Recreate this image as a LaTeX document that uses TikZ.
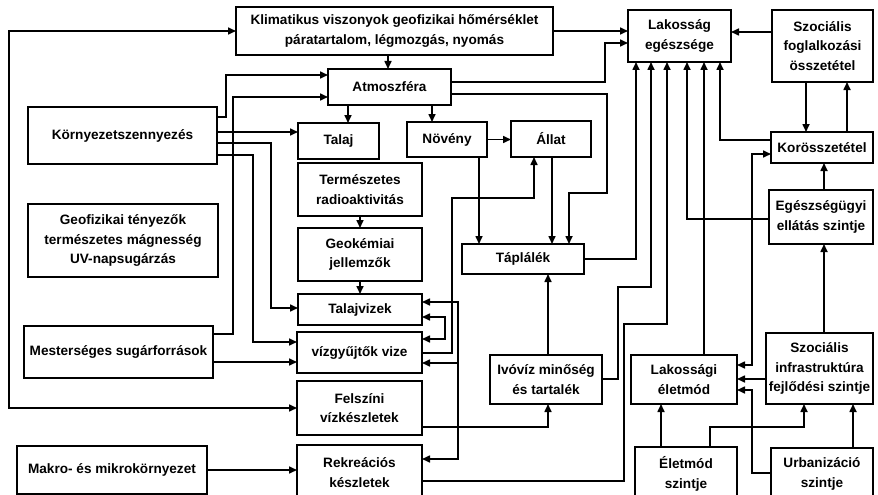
\documentclass[tikz,border=0pt]{standalone}
\usepackage{fontspec}
\setmainfont{Liberation Sans}
\usetikzlibrary{arrows.meta}
\begin{document}
\begin{tikzpicture}[x=1pt,y=-1pt,
 box/.style={draw, line width=1.8pt, inner sep=0pt, outer sep=0pt, align=center,
   font=\fontsize{13.6}{19.8}\selectfont\bfseries},
 conn/.style={line width=1.6pt, -{Triangle[length=8pt,width=7pt]}},
 bidir/.style={line width=1.6pt, {Triangle[length=8pt,width=7pt]}-{Triangle[length=8pt,width=7pt]}}]
\useasboundingbox (0,0) rectangle (878,495);
\clip (0,0) rectangle (878,495);
\fill[white] (0,0) rectangle (878,495);
% boxes
\node[box, minimum width=317pt, minimum height=48pt] (klim) at (394.5,31) {Klimatikus viszonyok geofizikai hőmérséklet\\páratartalom, légmozgás, nyomás};
\node[box, minimum width=123pt, minimum height=36pt] (atm) at (389.5,87) {Atmoszféra};
\node[box, minimum width=81pt, minimum height=36pt] (talaj) at (338.5,141) {Talaj};
\node[box, minimum width=80pt, minimum height=35pt] (noveny) at (447,139.5) {Növény};
\node[box, minimum width=80pt, minimum height=36pt] (allat) at (551,139) {Állat};
\node[box, minimum width=103pt, minimum height=52pt] (lak) at (679.5,36) {Lakosság\\egészsége};
\node[box, minimum width=101pt, minimum height=72pt] (szocf) at (822.5,46) {Szociális\\foglalkozási\\összetétel};
\node[box, minimum width=102pt, minimum height=31pt] (kor) at (822,147.5) {Korösszetétel};
\node[box, minimum width=104pt, minimum height=54pt] (egesz) at (821,217) {Egészségügyi\\ellátás szintje};
\node[box, minimum width=107pt, minimum height=71pt] (szinfra) at (819.5,368.5) {Szociális\\infrastruktúra\\fejlődési szintje};
\node[box, minimum width=106pt, minimum height=49pt] (lakel) at (684,379.5) {Lakossági\\életmód};
\node[box, minimum width=102pt, minimum height=53pt] (eletmod) at (686,473.5) {Életmód\\szintje};
\node[box, minimum width=102pt, minimum height=52pt] (urban) at (822,474) {Urbanizáció\\szintje};
\node[box, minimum width=189pt, minimum height=57pt] (kornyezet) at (122.5,135.5) {Környezetszennyezés};
\node[box, minimum width=190pt, minimum height=73pt] (geofiz) at (123,240.5) {Geofizikai tényezők\\természetes mágnesség\\UV-napsugárzás};
\node[box, minimum width=189pt, minimum height=52pt] (mesterseges) at (118.5,352) {Mesterséges sugárforrások};
\node[box, minimum width=190pt, minimum height=48pt] (makro) at (112,470) {Makro- és mikrokörnyezet};
\node[box, minimum width=124pt, minimum height=53pt] (termesz) at (360,189.5) {Természetes\\radioaktivitás};
\node[box, minimum width=124pt, minimum height=53pt] (geokem) at (360,254.5) {Geokémiai\\jellemzők};
\node[box, minimum width=124pt, minimum height=31pt] (talajviz) at (360,309.5) {Talajvizek};
\node[box, minimum width=125pt, minimum height=41pt] (vizgyujto) at (359.5,352.5) {vízgyűjtők vize};
\node[box, minimum width=125pt, minimum height=54pt] (felszini) at (359.5,408) {Felszíni\\vízkészletek};
\node[box, minimum width=125pt, minimum height=55pt] (rekr) at (359.5,472.5) {Rekreációs\\készletek};
\node[box, minimum width=122pt, minimum height=30pt] (taplalek) at (523,259) {Táplálék};
\node[box, minimum width=112pt, minimum height=49pt] (ivoviz) at (546,379.5) {Ivóvíz minőség\\és tartalék};
% connectors
\draw[bidir] (felszini.west) -- (9,408) -- (9,31) -- (klim.west);
\draw[conn] (kornyezet.east |- 0,117) -- (226,117) -- (226,75) -- (atm.west |- 0,75);
\draw[conn] (mesterseges.east |- 0,334) -- (233,334) -- (233,97) -- (atm.west |- 0,97);
\draw[conn] (kornyezet.east |- 0,132) -- (talaj.west |- 0,132);
\draw[conn] (kornyezet.east |- 0,143) -- (271,143) -- (271,308) -- (talajviz.west |- 0,308);
\draw[conn] (kornyezet.east |- 0,155) -- (253,155) -- (253,342) -- (vizgyujto.west |- 0,342);
\draw[conn] (mesterseges.east |- 0,362) -- (vizgyujto.west |- 0,362);
\draw[conn] (makro.east |- 0,470) -- (rekr.west |- 0,470);
\draw[conn] (klim.south -| 388,0) -- (atm.north -| 388,0);
\draw[conn] (klim.east) -- (lak.west |- klim.east);
\draw[conn] (atm.east |- 0,82) -- (605,82) -- (605,43) -- (lak.west |- 0,43);
\draw[conn] (atm.east |- 0,94) -- (607,94) -- (607,193) -- (569,193) -- (taplalek.north -| 569,0);
\draw[conn] (atm.south -| 348,0) -- (talaj.north -| 348,0);
\draw[conn] (atm.south -| 432,0) -- (noveny.north -| 432,0);
\draw[conn] (noveny.east) -- (allat.west |- noveny.east);
\draw[conn] (noveny.south -| 479,0) -- (taplalek.north -| 479,0);
\draw[conn] (allat.south -| 552,0) -- (taplalek.north -| 552,0);
\draw[conn] (vizgyujto.east |- 0,353) -- (452,353) -- (452,198) -- (534,198) -- (allat.south -| 534,0);
\draw[conn] (termesz.south) -- (geokem.north);
\draw[conn] (geokem.south) -- (talajviz.north);
\draw[bidir] (talajviz.east |- 0,302) -- (458,302) -- (458,459) -- (rekr.east |- 0,459);
\coordinate (busv) at (458,363);
\draw[conn] (busv) -- (vizgyujto.east |- busv);
\draw[bidir] (talajviz.east |- 0,317) -- (445,317) -- (445,339) -- (vizgyujto.east |- 0,339);
\draw[conn] (taplalek.east) -- (636,259) -- (lak.south -| 636,0);
\draw[conn] (ivoviz.east |- 0,379) -- (618,379) -- (618,287) -- (651,287) -- (lak.south -| 651,0);
\draw[conn] (rekr.east |- 0,481) -- (624,481) -- (624,324) -- (667,324) -- (lak.south -| 667,0);
\draw[conn] (egesz.west |- 0,219) -- (687,219) -- (lak.south -| 687,0);
\draw[conn] (lakel.north -| 704,0) -- (lak.south -| 704,0);
\draw[conn] (kor.west |- 0,140) -- (720,140) -- (lak.south -| 720,0);
\draw[conn] (szocf.west |- 0,32) -- (lak.east |- 0,32);
\draw[conn] (szocf.south -| 806,0) -- (kor.north -| 806,0);
\draw[conn] (kor.north -| 847,0) -- (szocf.south -| 847,0);
\draw[bidir] (kor.west |- 0,154) -- (752,154) -- (752,365) -- (lakel.east |- 0,365);
\draw[conn] (szinfra.west |- 0,379) -- (lakel.east |- 0,379);
\draw[conn] (urban.west |- 0,473) -- (752,473) -- (752,390) -- (lakel.east |- 0,390);
\draw[conn] (egesz.north -| 824,0) -- (kor.south -| 824,0);
\draw[conn] (szinfra.north -| 824,0) -- (egesz.south -| 824,0);
\draw[conn] (eletmod.north -| 661,0) -- (lakel.south -| 661,0);
\draw[conn] (eletmod.north -| 710,0) -- (710,427) -- (804,427) -- (szinfra.south -| 804,0);
\draw[conn] (urban.north -| 853,0) -- (szinfra.south -| 853,0);
\draw[conn] (ivoviz.north -| 548,0) -- (taplalek.south -| 548,0);
\draw[conn] (felszini.east |- 0,427) -- (548,427) -- (ivoviz.south -| 548,0);
\end{tikzpicture}
\end{document}
